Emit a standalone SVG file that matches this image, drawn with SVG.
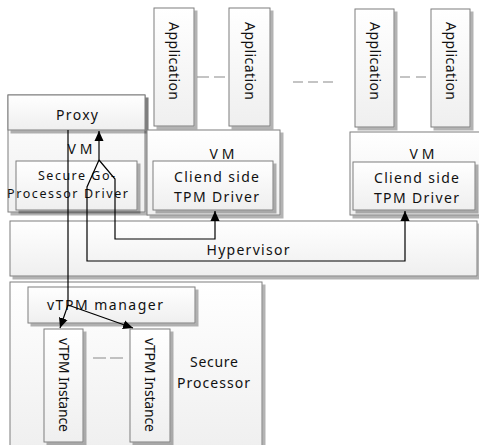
<svg xmlns="http://www.w3.org/2000/svg" width="479" height="445" viewBox="0 0 479 445">
<defs>
<linearGradient id="g" x1="0" y1="0" x2="0" y2="1">
<stop offset="0" stop-color="#ffffff"/>
<stop offset="1" stop-color="#efefef"/>
</linearGradient>
<filter id="sh" x="-10%" y="-10%" width="130%" height="130%">
<feGaussianBlur in="SourceAlpha" stdDeviation="0.7"/>
<feOffset dx="2.5" dy="2.5" result="o"/>
<feComponentTransfer><feFuncA type="linear" slope="0.3"/></feComponentTransfer>
<feMerge><feMergeNode/><feMergeNode in="SourceGraphic"/></feMerge>
</filter>
<marker id="ah" markerWidth="10" markerHeight="10" viewBox="0 0 10 10" refX="10" refY="5" orient="auto" markerUnits="userSpaceOnUse">
<path d="M0,0.5 L10,5 L0,9.5 Z" fill="#000"/>
</marker>
</defs>
<style>
.box{fill:url(#g);stroke:#7f7f7f;stroke-width:1;filter:url(#sh)}
.t{font-family:"Noto Sans","Liberation Sans",sans-serif;font-size:14px;fill:#111;text-anchor:middle}
.s{font-size:12.5px}
.dash{stroke:#8a8a8a;stroke-width:1.2;fill:none}
.c{stroke:#000;stroke-width:1.2;fill:none}
</style>

<g id="left-vm">
<rect class="box" x="8" y="95" width="137" height="117"/>
<rect class="box" x="8" y="95" width="137" height="35"/>
<text class="t" x="77" y="120" textLength="42" lengthAdjust="spacing">Proxy</text>
<text class="t" x="80" y="154" textLength="25" lengthAdjust="spacing">VM</text>
<rect class="box" x="16" y="161" width="121" height="49"/>
<text class="t s" x="76.5" y="180" textLength="77" lengthAdjust="spacing">Secure Go-</text>
<text class="t s" x="67.5" y="197.5" textLength="121" lengthAdjust="spacing">Processor Driver</text>
</g>

<g id="app1">
<rect class="box" x="154" y="8" width="40" height="118"/>
<text class="t" transform="translate(169,61) rotate(90)" textLength="78" lengthAdjust="spacing">Application</text>
</g>
<g id="app2">
<rect class="box" x="229" y="8" width="41" height="118"/>
<text class="t" transform="translate(244.5,61) rotate(90)" textLength="78" lengthAdjust="spacing">Application</text>
</g>
<g id="app3">
<rect class="box" x="355" y="9" width="39" height="118"/>
<text class="t" transform="translate(369.5,61) rotate(90)" textLength="78" lengthAdjust="spacing">Application</text>
</g>
<g id="app4">
<rect class="box" x="431" y="9" width="39" height="118"/>
<text class="t" transform="translate(445.5,61) rotate(90)" textLength="78" lengthAdjust="spacing">Application</text>
</g>

<g id="mid-vm">
<rect class="box" x="147" y="130" width="133" height="85"/>
<text class="t" x="222" y="158.5" textLength="25" lengthAdjust="spacing">VM</text>
<rect class="box" x="153" y="161" width="120" height="49"/>
<text class="t" x="216.5" y="182" textLength="85" lengthAdjust="spacing">Cliend side</text>
<text class="t" x="216.5" y="202" textLength="85" lengthAdjust="spacing">TPM Driver</text>
</g>

<g id="right-vm">
<rect class="box" x="350" y="132" width="132" height="83"/>
<text class="t" x="422" y="158.8" textLength="25" lengthAdjust="spacing">VM</text>
<rect class="box" x="353" y="162" width="122" height="48"/>
<text class="t" x="416.5" y="182.7" textLength="85" lengthAdjust="spacing">Cliend side</text>
<text class="t" x="416.5" y="202.7" textLength="85" lengthAdjust="spacing">TPM Driver</text>
</g>

<g id="hypervisor">
<rect class="box" x="10" y="221" width="467" height="55"/>
<text class="t" x="248" y="255" textLength="83" lengthAdjust="spacing">Hypervisor</text>
</g>

<g id="secure-processor">
<rect class="box" x="10" y="282" width="252" height="170"/>
<text class="t" x="214" y="367" textLength="48" lengthAdjust="spacing">Secure</text>
<text class="t" x="213.5" y="388" textLength="73" lengthAdjust="spacing">Processor</text>
</g>
<g id="vtpm-manager">
<rect class="box" x="28" y="287" width="167" height="36"/>
<text class="t" x="105" y="310" textLength="116" lengthAdjust="spacing">vTPM manager</text>
</g>
<g id="vtpm1">
<rect class="box" x="44" y="329" width="39" height="113"/>
<text class="t" transform="translate(58.5,385) rotate(90)" textLength="94" lengthAdjust="spacing">vTPM Instance</text>
</g>
<g id="vtpm2">
<rect class="box" x="130" y="329" width="40" height="113"/>
<text class="t" transform="translate(145,385) rotate(90)" textLength="94" lengthAdjust="spacing">vTPM Instance</text>
</g>

<g id="ellipses">
<line class="dash" x1="197" y1="77" x2="225" y2="77" stroke-dasharray="12 5"/>
<line class="dash" x1="293" y1="82" x2="335" y2="82" stroke-dasharray="10 5"/>
<line class="dash" x1="400" y1="77" x2="427" y2="77" stroke-dasharray="10 6"/>
<line class="dash" x1="93" y1="358" x2="123" y2="358" stroke-dasharray="13 4"/>
</g>

<g id="connectors">
<path class="c" d="M99,160 V131" marker-end="url(#ah)"/>
<path class="c" d="M99,160 L115,179 V239 H215 V211" marker-end="url(#ah)"/>
<path class="c" d="M99,160 L87,187 V261 H405 V211" marker-end="url(#ah)"/>
<path class="c" d="M68,130 V305 L60,328" marker-end="url(#ah)"/>
<path class="c" d="M68,305 L133,328" marker-end="url(#ah)"/>
</g>
</svg>
